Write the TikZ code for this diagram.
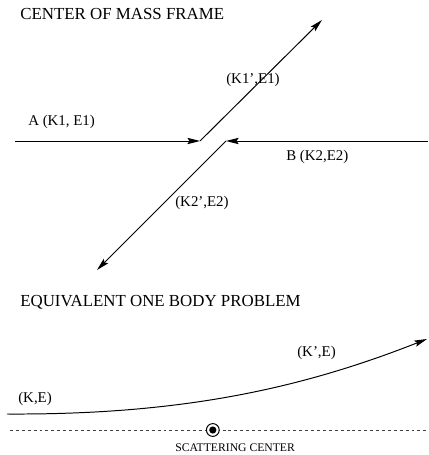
\documentclass[tikz,border=0pt]{standalone}
\usepackage{fontspec}
\setmainfont{Liberation Serif}
\usepackage{tikz}
\usetikzlibrary{positioning}
\usetikzlibrary{arrows.meta}

\tikzset{
	ray/.style={line width=0.7pt, -{Stealth[length=9pt, width=4.5pt, inset=1.5pt]}},
	title/.style={anchor=base west, inner sep=0pt, font=\fontsize{12}{14}\selectfont},
	lbl/.style={anchor=base west, inner sep=0pt, font=\fontsize{10.6}{12}\selectfont},
}

\begin{document}
\begin{tikzpicture}[scale=1.0]
		\useasboundingbox (0,0) rectangle (10.7,11.375);

		% Center of mass frame
		\node[title] (cmtitle) at (0.5,10.875) {CENTER OF MASS FRAME};

		\coordinate (a0) at (0.375,7.85);
		\coordinate (a1) at (5.0,7.85);
		\coordinate (b0) at (10.7,7.85);
		\coordinate (b1) at (5.65,7.85);
		\coordinate (a2) at (8.05,10.875);
		\coordinate (b2) at (2.425,4.625);

		% Incoming particles
		\draw[ray] (a0) -- (a1);
		\draw[ray] (b0) -- (b1);

		% Outgoing particles
		\draw[ray] (a1) -- (a2);
		\draw[ray] (b1) -- (b2);

		% Labels
		\node[lbl] (la) at (0.7,8.225) {A (K1, E1)};
		\node[lbl] (lb) at (7.15,7.35) {B (K2,E2)};
		\node[lbl] (la2) at (5.65,9.275) {(K1',E1)};
		\node[lbl] (lb2) at (4.375,6.2) {(K2',E2)};

		% Equivalent one body problem
		\node[title] (obtitle) at (0.5,3.7) {EQUIVALENT ONE BODY PROBLEM};

		\coordinate (p0) at (0.175,1.025);
		\coordinate (p1) at (10.675,2.9);
		\coordinate (d0) at (0.25,0.625);
		\coordinate (d1) at (10.7,0.625);
		\coordinate (sc) at (5.32,0.625);

		% Trajectory
		\draw[ray] (p0) .. controls (4.5,1.0) and (7.5,1.65) .. (p1);

		% Axis and scattering center
		\draw[black!75, line width=0.6pt, dash pattern=on 2.1pt off 2.1pt] (d0) -- (d1);
		\draw[line width=0.7pt, fill=white] (sc) circle (0.16);
		\fill (sc) circle (0.09);

		\node[lbl] (lk) at (0.45,1.3) {(K,E)};
		\node[lbl] (lk2) at (7.425,2.45) {(K',E)};
		\node[anchor=base west, inner sep=0pt, font=\fontsize{8.3}{10}\selectfont] (lsc) at (4.375,0.083) {SCATTERING CENTER};
	\end{tikzpicture}
\end{document}
